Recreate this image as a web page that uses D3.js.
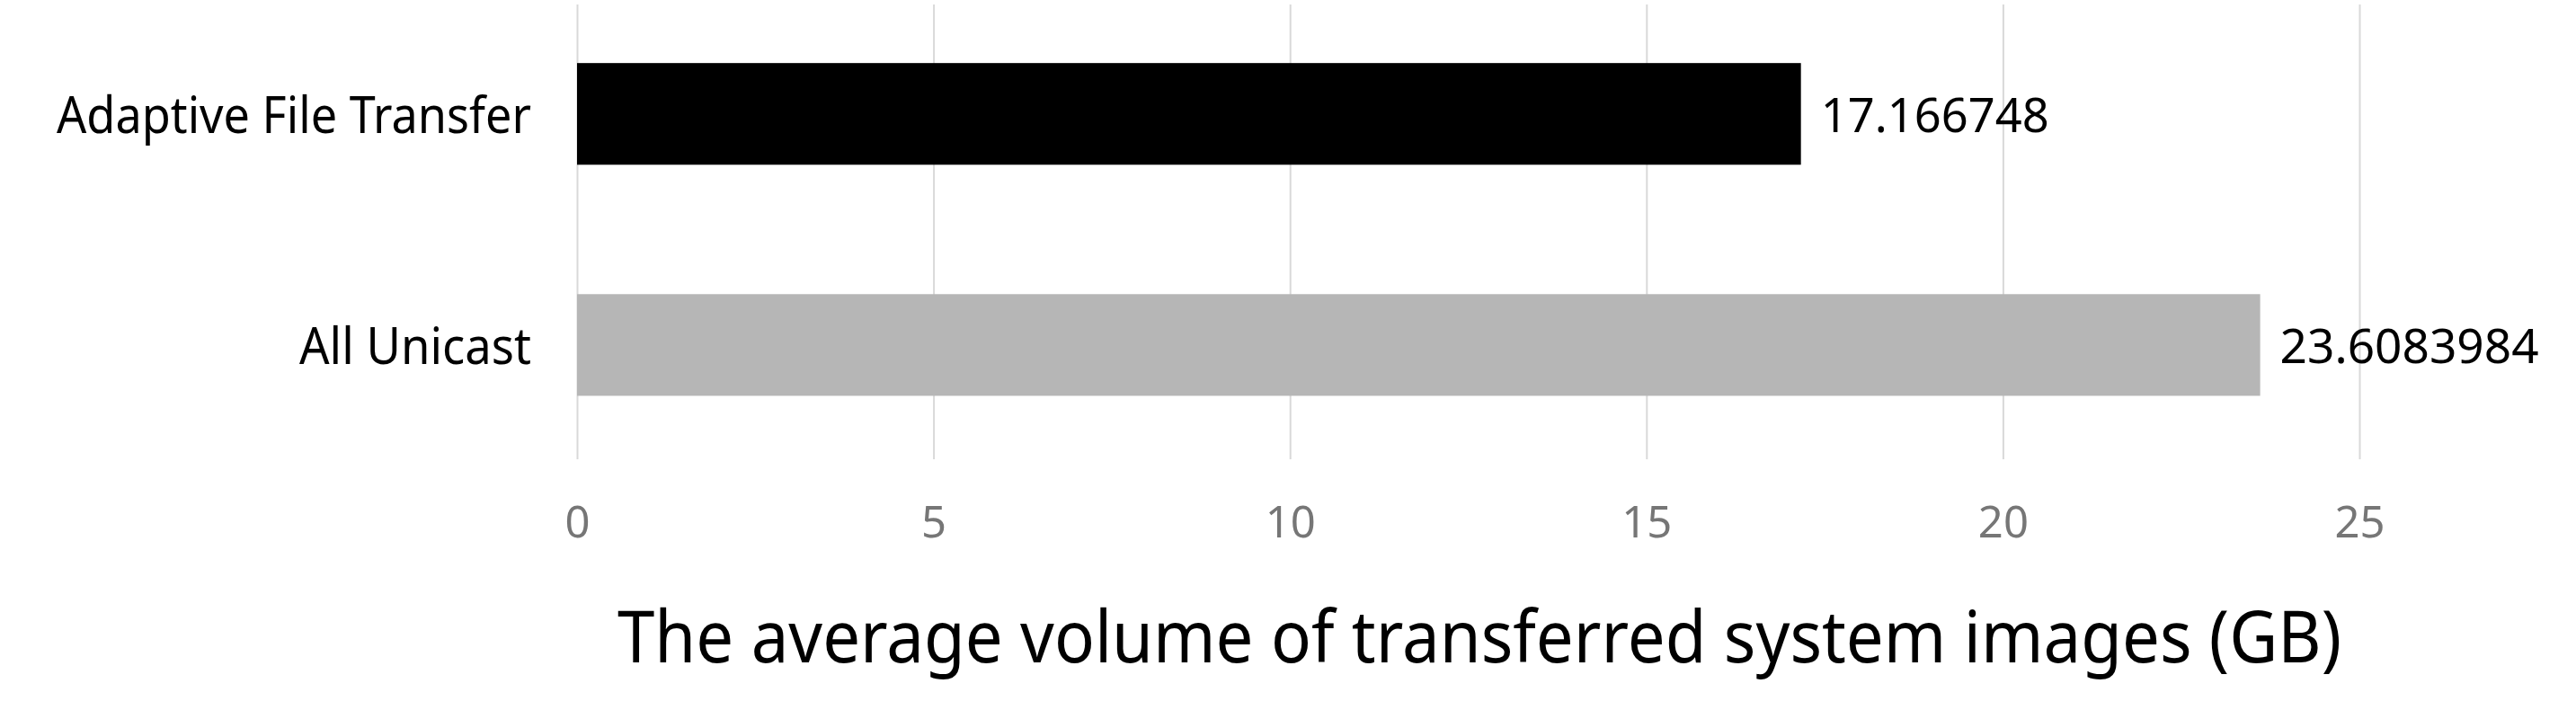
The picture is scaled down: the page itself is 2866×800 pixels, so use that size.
<!DOCTYPE html>
<html>
<head>
<meta charset="utf-8">
<script src="https://cdn.jsdelivr.net/npm/d3@7"></script>
<style>
  body { margin: 0; background: #fff; }
  #barChart { width: 2866px; height: 800px; }
</style>
</head>
<body>
<div id="barChart"></div>
<script>
// data
const categories = ["Adaptive File Transfer", "All Unicast"];
const values = [17.166748, 23.6083984];
const valueLabels = ["17.166748", "23.6083984"];
const barColors = ["#000000", "#b6b6b6"];
const xTicks = [0, 5, 10, 15, 20, 25];
const axisTitle = "The average volume of transferred system images (GB)";

// layout
const container = document.querySelector("#barChart");
const svgWidth = 2866;
const svgHeight = 800;
const margin = { top: 5, right: 241, bottom: 289, left: 642 };
const innerWidth = svgWidth - margin.left - margin.right;
const innerHeight = svgHeight - margin.top - margin.bottom;

const svg = d3.select(container).append("svg")
  .attr("width", svgWidth)
  .attr("height", svgHeight)
  .style("font-family", "'Noto Sans', sans-serif");

const chartGroup = svg.append("g")
  .attr("transform", `translate(${margin.left}, ${margin.top})`);

// scales
const xScale = d3.scaleLinear().domain([0, 25]).range([0, innerWidth]);
const yScale = d3.scaleBand()
  .domain(categories)
  .range([0, innerHeight])
  .paddingInner(0.56)
  .paddingOuter(0.264)
  .align(0.48);

// gridlines + tick labels
const xAxis = chartGroup.append("g")
  .attr("transform", `translate(0, ${innerHeight})`)
  .call(d3.axisBottom(xScale).tickValues(xTicks).tickSize(-innerHeight).tickPadding(52));
xAxis.select(".domain").remove();
xAxis.selectAll(".tick line").attr("stroke", "#d9d9d9").attr("stroke-width", 2);
xAxis.selectAll(".tick text")
  .attr("fill", "#767676")
  .style("font-size", "49px")
  .style("font-family", "'Noto Sans', sans-serif");

// bars
chartGroup.selectAll("rect.bar")
  .data(categories)
  .join("rect")
  .attr("class", "bar")
  .attr("x", 0)
  .attr("y", (d) => yScale(d))
  .attr("width", (d, i) => xScale(values[i]))
  .attr("height", yScale.bandwidth())
  .attr("fill", (d, i) => barColors[i]);

// value labels
const labelWidths = [254, 288];
chartGroup.selectAll("text.value")
  .data(categories)
  .join("text")
  .attr("class", "value")
  .attr("x", (d, i) => xScale(values[i]) + 22)
  .attr("y", (d) => yScale(d) + yScale.bandwidth() / 2 + 20)
  .attr("textLength", (d, i) => labelWidths[i])
  .attr("lengthAdjust", "spacingAndGlyphs")
  .style("font-size", "53px")
  .attr("fill", "#000")
  .text((d, i) => valueLabels[i]);

// category labels
const catWidths = [528, 258];
chartGroup.selectAll("text.cat")
  .data(categories)
  .join("text")
  .attr("class", "cat")
  .attr("x", -51)
  .attr("y", (d) => yScale(d) + yScale.bandwidth() / 2 + 21)
  .attr("text-anchor", "end")
  .attr("textLength", (d, i) => catWidths[i])
  .attr("lengthAdjust", "spacingAndGlyphs")
  .style("font-size", "56px")
  .attr("fill", "#000")
  .text((d) => d);

// axis title
svg.append("text")
  .attr("x", 1646)
  .attr("y", 737)
  .attr("text-anchor", "middle")
  .attr("textLength", 1918)
  .attr("lengthAdjust", "spacingAndGlyphs")
  .style("font-size", "80px")
  .attr("fill", "#000")
  .text(axisTitle);
</script>
</body>
</html>
